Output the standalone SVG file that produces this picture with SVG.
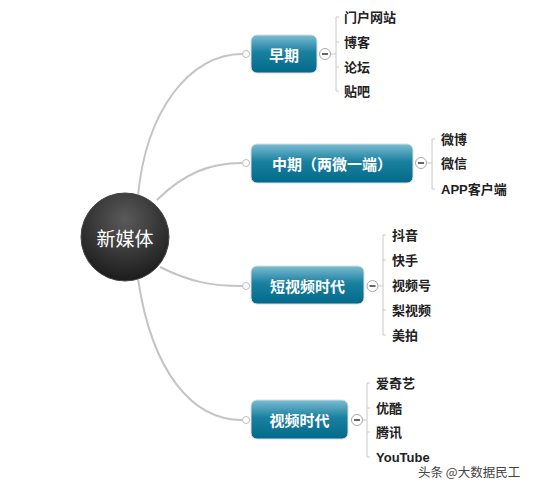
<svg xmlns="http://www.w3.org/2000/svg" width="541" height="486" viewBox="0 0 541 486">
<defs>
<linearGradient id="ng" x1="0" y1="0" x2="0" y2="1">
<stop offset="0" stop-color="#7bbdd2"/>
<stop offset="0.45" stop-color="#1a80a0"/>
<stop offset="1" stop-color="#03698a"/>
</linearGradient>
<radialGradient id="cg" cx="0.5" cy="0.3" r="0.7">
<stop offset="0" stop-color="#5a5a5a"/>
<stop offset="1" stop-color="#1c1c1c"/>
</radialGradient>
<style>
.conn{fill:none;stroke:#c4c4c4;stroke-width:2}
.br{fill:none;stroke:#c8c8c8;stroke-width:1}
.dot{fill:#fff;stroke:#bdbdbd;stroke-width:1}
.col{fill:#fff;stroke:#aaa;stroke-width:1}
.minus{stroke:#333;stroke-width:1.5}
.box{fill:url(#ng);stroke:#d8dde0;stroke-width:1}
.nt{font-family:"Noto Sans CJK SC","Liberation Sans",sans-serif;font-size:15px;font-weight:bold;fill:#fff;text-anchor:middle;dominant-baseline:central}
.ct{font-family:"Liberation Sans","Noto Sans CJK SC",sans-serif;font-size:13px;font-weight:bold;fill:#222;dominant-baseline:central}
</style>
</defs>
<rect width="541" height="486" fill="#fff"/>
<g id="connectors">
<path class="conn" d="M138,196 C146,110 190,54 242,54"/>
<path class="conn" d="M157,200 C185,172 212,163 242,163"/>
<path class="conn" d="M160,267 C190,282 212,286 242,286"/>
<path class="conn" d="M138,279 C152,372 192,420 242,420"/>
</g>
<g id="center">
<circle cx="125" cy="237" r="44" fill="url(#cg)" stroke="#444" stroke-width="1"/>
<text x="125" y="237" class="nt" style="font-size:19px;font-weight:normal">新媒体</text>
</g>
<g id="n1">
<circle class="dot" cx="246" cy="54" r="3.5"/>
<rect class="box" x="251" y="35" width="66" height="38" rx="6"/>
<text class="nt" x="284" y="54">早期</text>
<path class="br" d="M330,54 H336 M339,17 H336 V91 H339 M336,42 H339 M336,67 H339"/>
<circle class="col" cx="325" cy="54" r="5.5"/>
<line class="minus" x1="322" y1="54" x2="328" y2="54"/>
<text class="ct" x="344" y="17">门户网站</text>
<text class="ct" x="344" y="42">博客</text>
<text class="ct" x="344" y="67">论坛</text>
<text class="ct" x="344" y="91">贴吧</text>
</g>
<g id="n2">
<circle class="dot" cx="246" cy="163" r="3.5"/>
<rect class="box" x="251" y="144" width="162" height="39" rx="6"/>
<text class="nt" x="332" y="163">中期（两微一端）</text>
<path class="br" d="M426,163 H432 M435,139 H432 V189 H435"/>
<circle class="col" cx="421" cy="163" r="5.5"/>
<line class="minus" x1="418" y1="163" x2="424" y2="163"/>
<text class="ct" x="441" y="139">微博</text>
<text class="ct" x="441" y="163">微信</text>
<text class="ct" x="441" y="189">APP客户端</text>
</g>
<g id="n3">
<circle class="dot" cx="246" cy="286" r="3.5"/>
<rect class="box" x="251" y="266" width="113" height="38" rx="6"/>
<text class="nt" x="307.5" y="285">短视频时代</text>
<path class="br" d="M378,286 H383 M386,235 H383 V335 H386 M383,260 H386 M383,310 H386"/>
<circle class="col" cx="372.5" cy="286" r="5.5"/>
<line class="minus" x1="369.5" y1="286" x2="375.5" y2="286"/>
<text class="ct" x="392" y="235">抖音</text>
<text class="ct" x="392" y="260">快手</text>
<text class="ct" x="392" y="285">视频号</text>
<text class="ct" x="392" y="310">梨视频</text>
<text class="ct" x="392" y="335">美拍</text>
</g>
<g id="n4">
<circle class="dot" cx="246" cy="420" r="3.5"/>
<rect class="box" x="251" y="400" width="97" height="39" rx="6"/>
<text class="nt" x="299.5" y="419.5">视频时代</text>
<path class="br" d="M362,420 H367 M370,383 H367 V457 H370 M367,408 H370 M367,432 H370"/>
<circle class="col" cx="357" cy="420" r="5.5"/>
<line class="minus" x1="354" y1="420" x2="360" y2="420"/>
<text class="ct" x="376" y="383">爱奇艺</text>
<text class="ct" x="376" y="408">优酷</text>
<text class="ct" x="376" y="432">腾讯</text>
<text class="ct" x="376" y="457">YouTube</text>
</g>
<text x="418" y="471" style="font-family:'Noto Sans CJK SC','Liberation Sans',sans-serif;font-size:12.5px;fill:#444;dominant-baseline:central">头条 @大数据民工</text>
</svg>
